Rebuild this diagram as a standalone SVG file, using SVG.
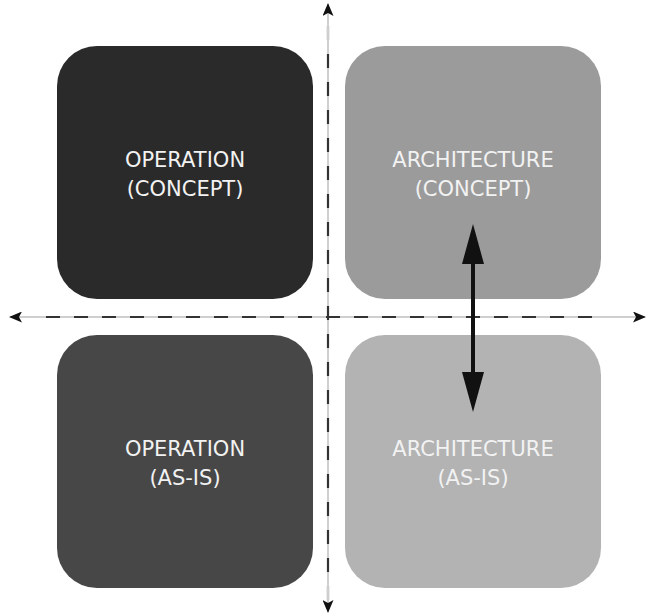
<svg xmlns="http://www.w3.org/2000/svg" width="647" height="615" viewBox="0 0 647 615">
<style>
.lbl{font-family:"DejaVu Sans",sans-serif;font-size:21px;text-anchor:middle;fill:#f2f2f2}
.axbase{stroke:#cfcfcf;stroke-width:2;fill:none}
.axdash{stroke:#333;stroke-width:2.2;stroke-dasharray:14 14;fill:none}
</style>
<defs>
<marker id="ah" markerWidth="13" markerHeight="11" refX="12" refY="5.5" orient="auto" markerUnits="userSpaceOnUse">
<path d="M0,0 L13,5.5 L0,11 L3,5.5 Z" fill="#111"/>
</marker>
</defs>
<rect width="647" height="615" fill="#fff"/>
<g id="op-concept">
<rect x="57" y="46" width="256" height="253" rx="40" fill="#2a2a2a"/>
<text class="lbl" x="185" y="167">OPERATION</text>
<text class="lbl" x="185" y="196">(CONCEPT)</text>
</g>
<g id="arch-concept">
<rect x="345" y="46" width="256" height="253" rx="40" fill="#9b9b9b"/>
<text class="lbl" x="473" y="167">ARCHITECTURE</text>
<text class="lbl" x="473" y="196">(CONCEPT)</text>
</g>
<g id="op-asis">
<rect x="57" y="335" width="256" height="253" rx="40" fill="#474747"/>
<text class="lbl" x="185" y="456">OPERATION</text>
<text class="lbl" x="185" y="485">(AS-IS)</text>
</g>
<g id="arch-asis">
<rect x="345" y="335" width="256" height="253" rx="40" fill="#b3b3b3"/>
<text class="lbl" x="473" y="456">ARCHITECTURE</text>
<text class="lbl" x="473" y="485">(AS-IS)</text>
</g>
<g id="connectors">
<line class="axbase" x1="645" y1="317" x2="12" y2="317"/>
<line class="axdash" x1="620" y1="317" x2="20" y2="317"/>
<line class="axbase" x1="328" y1="612" x2="328" y2="5"/>
<line class="axdash" x1="328" y1="600" x2="328" y2="14"/>
<line x1="600" y1="317" x2="645" y2="317" stroke="#cfcfcf" stroke-width="2" marker-end="url(#ah)"/>
<line x1="40" y1="317" x2="10" y2="317" stroke="#cfcfcf" stroke-width="2" marker-end="url(#ah)"/>
<line x1="328" y1="40" x2="328" y2="4" stroke="#cfcfcf" stroke-width="2" marker-end="url(#ah)"/>
<line x1="328" y1="580" x2="328" y2="612" stroke="#cfcfcf" stroke-width="2" marker-end="url(#ah)"/>
<line x1="473" y1="260" x2="473" y2="376" stroke="#111" stroke-width="4"/>
<path d="M473,224 L462,264 L484,264 Z" fill="#111"/>
<path d="M473,412 L462,372 L484,372 Z" fill="#111"/>
</g>
</svg>
